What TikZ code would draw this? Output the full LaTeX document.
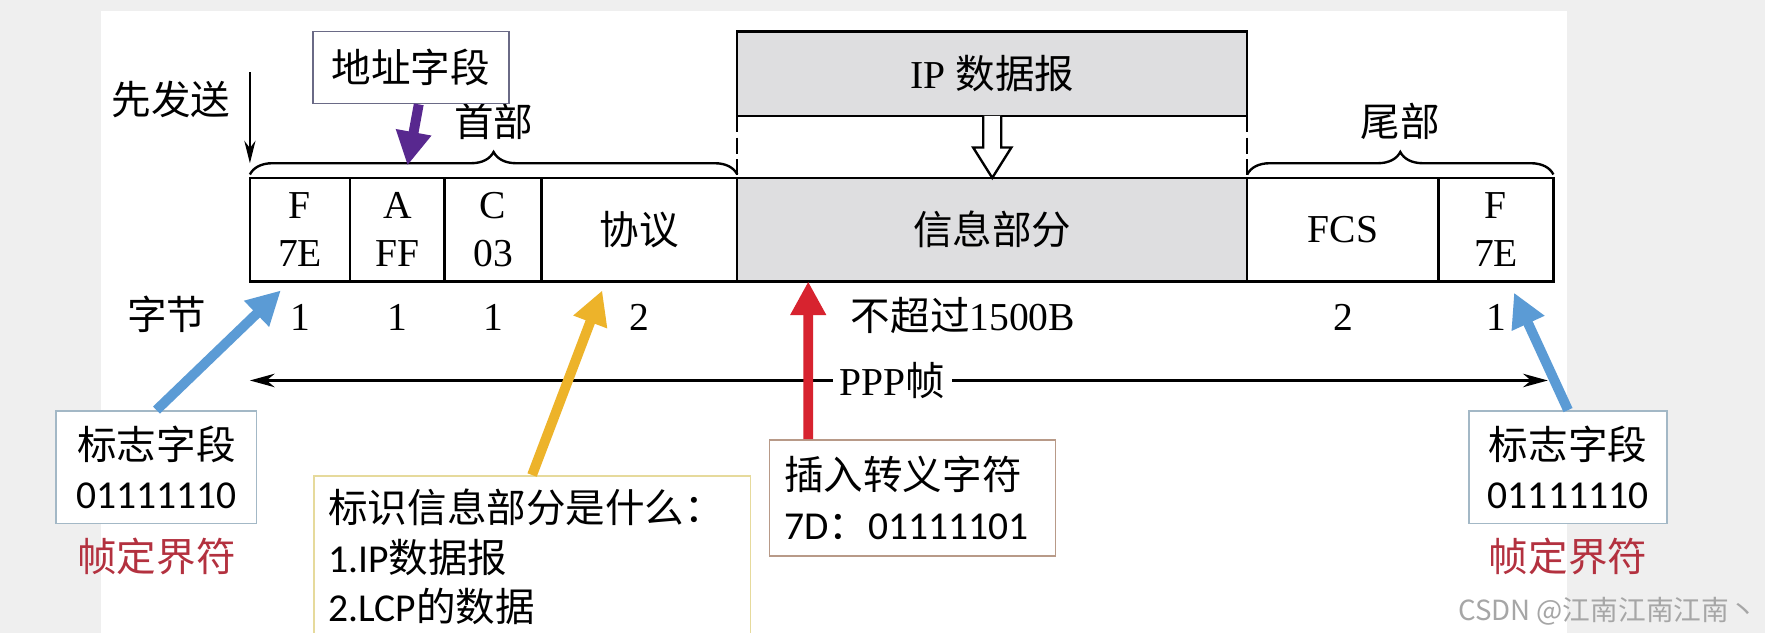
\documentclass[tikz,border=0pt]{standalone}
\usepackage{fontspec}
\usepackage{tikz}
\usetikzlibrary{positioning,calc,arrows.meta,decorations.pathreplacing}
\setmainfont{Liberation Serif}
\newfontfamily\cjk{Noto Sans CJK SC}
\newfontfamily\calfont{Carlito}
\newcommand{\zh}[1]{{\cjk #1}}
\definecolor{bgGray}{HTML}{EFEFEF}
\definecolor{infoGray}{HTML}{DEDEE0}
\definecolor{ccBlue}{HTML}{5B9BD5}
\definecolor{ccYellow}{HTML}{EDB32A}
\definecolor{ccRed}{HTML}{D7232F}
\definecolor{ccPurple}{HTML}{58288F}
\definecolor{ccText}{HTML}{B3313F}
\definecolor{flagLine}{HTML}{A3B8C6}
\definecolor{idLine}{HTML}{E6DA9C}
\definecolor{escLine}{HTML}{B89A88}
\definecolor{addrLine}{HTML}{6A6A86}
\tikzset{
  cell/.style={draw, semithick, minimum height=0.92cm, inner sep=0pt, outer sep=0pt,
    align=center, anchor=north west},
  num/.style={text height=0.25cm, text depth=0.05cm},
  note/.style={draw, fill=white, align=left, inner xsep=0.13cm,
    font=\fontsize{10}{12.5}\selectfont},
  callarrow/.style={line width=2.5pt, -{Triangle[length=0.3cm,width=0.3cm]}}
}

\begin{document}
\begin{tikzpicture}
\clip (0,0) rectangle (15.68,5.62);
\fill[bgGray] (0,0) rectangle (15.68,5.62);
\fill[white] (0.90,0) rectangle (13.92,5.52);

\node[cell, minimum width=0.89cm] (f1) at (2.22,4.04) {F\\7E};
\node[cell, minimum width=0.84cm] (a) at (f1.north east) {A\\FF};
\node[cell, minimum width=0.86cm] (c) at (a.north east) {C\\03};
\node[cell, minimum width=1.74cm] (proto) at (c.north east) {\zh{协议}};
\node[cell, minimum width=4.53cm, fill=infoGray] (info) at (proto.north east) {\zh{信息部分}};
\node[cell, minimum width=1.70cm] (fcs) at (info.north east) {FCS};
\node[cell, minimum width=1.02cm] (f2) at (fcs.north east) {F\\7E};

\node[draw, semithick, fill=infoGray, minimum width=4.53cm, minimum height=0.75cm,
  outer sep=0pt, above=0.55cm of info] (ip) {IP \zh{数据报}};
\draw[semithick, dash pattern=on 4pt off 1.5pt] (ip.south west) -- (info.north west);
\draw[semithick, dash pattern=on 4pt off 1.5pt] (ip.south east) -- (info.north east);
\draw[semithick, fill=white] ($(ip.south)+(-0.08,0)$) -- ++(0,-0.28) -- ++(-0.09,0)
  -- (info.north) -- ++(0.17,0.27) -- ++(-0.09,0) -- ($(ip.south)+(0.08,0)$);

\draw[semithick, decorate, decoration={brace, amplitude=0.2cm}]
  ($(f1.north west)+(0,0.03)$) -- ($(proto.north east)+(0,0.03)$)
  node[midway, yshift=0.47cm] (head) {\zh{首部}};
\draw[semithick, decorate, decoration={brace, amplitude=0.2cm}]
  ($(info.north east)+(0,0.03)$) -- ($(f2.north east)+(0,0.03)$)
  node[midway, yshift=0.47cm] (tail) {\zh{尾部}};

\node (first) at (1.52,4.74) {\zh{先发送}};
\draw[-{Stealth[length=0.2cm,width=0.1cm]}] ($(f1.north west)+(0,0.94)$) -- ($(f1.north west)+(0,0.13)$);

\node[draw=addrLine, thin, fill=white, minimum width=1.74cm, minimum height=0.64cm] (addr) at (3.65,5.02) {\zh{地址字段}};
\coordinate (addrtip) at (3.62,4.15);
\draw[callarrow, ccPurple] ($(addr.south)+(0.07,0)$) -- (addrtip);

\node[num, anchor=base] (bytes) at (1.48,2.69) {\zh{字节}};
\node[num, below=0.06cm of f1] (n1) {1};
\node[num, below=0.06cm of a] (n2) {1};
\node[num, below=0.06cm of c] (n3) {1};
\node[num, below=0.06cm of proto] (n4) {2};
\node[num, below=0.06cm of info, xshift=-0.26cm] (n5) {\zh{不超过}1500B};
\node[num, below=0.06cm of fcs] (n6) {2};
\node[num, below=0.06cm of f2] (n7) {1};

\draw[semithick, {Stealth[length=0.22cm,width=0.12cm]}-{Stealth[length=0.22cm,width=0.12cm]}]
  ($(f1.south west)+(0,-0.88)$) -- ($(f2.south east)+(-0.05,-0.88)$)
  node[pos=0.495, fill=white, inner xsep=0.06cm] (ppp) {PPP\zh{帧}};

\node[note, draw=flagLine, align=center, minimum width=1.78cm, minimum height=1.0cm] (flagl) at (1.39,1.47)
  {\zh{标志字段}\\\calfont 01111110};
\node[below=0cm of flagl, text=ccText] (taglabl) {\zh{帧定界符}};
\node[note, draw=flagLine, align=center, minimum width=1.76cm, minimum height=1.0cm] (flagr) at (13.93,1.47)
  {\zh{标志字段}\\\calfont 01111110};
\node[below=0cm of flagr, text=ccText] (taglabr) {\zh{帧定界符}};

\node[note, draw=idLine, anchor=north west, text width=3.62cm] (idnote) at (2.78,1.40)
  {\zh{标识信息部分是什么：}\\{\calfont 1.IP}\zh{数据报}\\{\calfont 2.LCP}\zh{的数据}};
\node[note, draw=escLine, anchor=north west, text width=2.28cm, minimum height=1.03cm] (esc) at (6.83,1.72)
  {\zh{插入转义字符}\\{\calfont 7D}\zh{：}{\calfont 01111101}};

\draw[callarrow, ccBlue] (flagl.north) -- ($(f1.south)+(-0.17,-0.08)$);
\draw[callarrow, ccYellow] (idnote.north) -- ($(proto.south)+(-0.33,-0.08)$);
\draw[callarrow, ccRed] ($(esc.north west)+(0.35,0)$) -- ($(info.south west)+(0.63,0)$);
\draw[callarrow, ccBlue] (flagr.north) -- ($(f2.south)+(0.16,-0.1)$);

\node[text=gray!70, font=\fontsize{7}{8.5}\selectfont] (mark) at (14.28,0.19) {\zh{CSDN @江南江南江南丶}};
\end{tikzpicture}
\end{document}
